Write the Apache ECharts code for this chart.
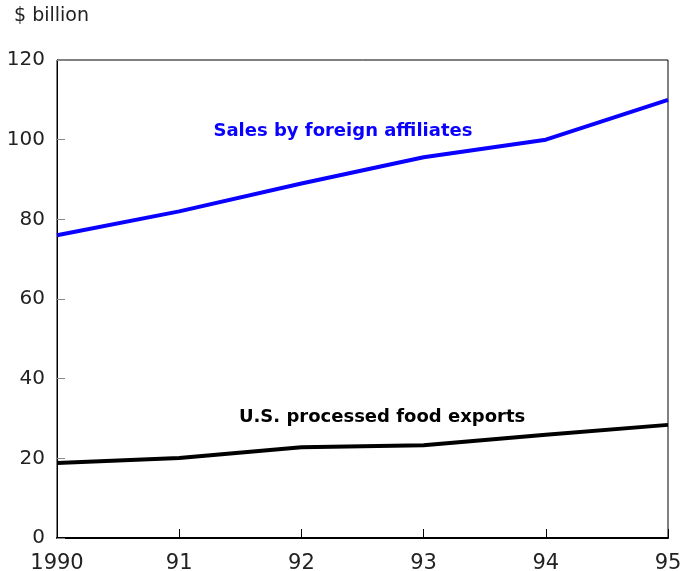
<!DOCTYPE html>
<html><head><meta charset="utf-8">
<script src="https://cdn.jsdelivr.net/npm/echarts@6/dist/echarts.min.js"></script>
<style>html,body{margin:0;padding:0;background:#fff}#c{width:694px;height:571px}</style>
</head><body><div id="c"></div>
<script>
const years = ['1990','91','92','93','94','95'];
const salesForeignAffiliates = [76, 82, 89, 95.6, 100, 110];
const processedFoodExports = [18.8, 20.1, 22.8, 23.3, 25.9, 28.4];
const yTicks = [0, 20, 40, 60, 80, 100, 120];

const font = 'DejaVu Sans';
const toPairs = arr => arr.map((v, i) => [i, v]);
const chart = echarts.init(document.getElementById('c'));
chart.setOption({
  animation: false,
  backgroundColor: '#fff',
  grid: {left: 57, right: 26, top: 60, bottom: 33, containLabel: false, outerBoundsMode: 'none',
    show: true, borderColor: '#000', borderWidth: 1, backgroundColor: 'transparent'},
  graphic: [
    {type: 'text', left: 14, top: 7, style: {text: '$ billion', fontSize: 19, fontFamily: font, fill: '#222'}}
  ],
  xAxis: {
    type: 'value', min: 0, max: years.length - 1, interval: 1,
    splitLine: {show: false},
    axisLine: {lineStyle: {color: '#000', width: 2}},
    axisTick: {inside: true, length: 9, lineStyle: {color: '#000'}},
    axisLabel: {color: '#222', fontSize: 21, fontFamily: font, margin: 15, formatter: v => years[v]}
  },
  yAxis: {
    type: 'value', min: yTicks[0], max: yTicks[yTicks.length - 1], interval: 20,
    axisLine: {show: true, lineStyle: {color: '#000', width: 1}},
    axisTick: {show: true, inside: true, length: 8, lineStyle: {color: '#888'}},
    splitLine: {show: false},
    axisLabel: {color: '#222', fontSize: 20, fontFamily: font, margin: 12}
  },
  series: [
    {
      type: 'line', data: toPairs(salesForeignAffiliates), symbol: 'none',
      lineStyle: {color: '#0a00ff', width: 4},
      markPoint: {symbol: 'circle', symbolSize: 1, itemStyle: {color: 'transparent'},
        data: [{coord: [2.34, 102.2], value: 0}],
        label: {show: true, position: 'inside', formatter: 'Sales by foreign affiliates', color: '#0a00ff', fontWeight: 'bold', fontSize: 18, fontFamily: font}}
    },
    {
      type: 'line', data: toPairs(processedFoodExports), symbol: 'none',
      lineStyle: {color: '#000', width: 4},
      markPoint: {symbol: 'circle', symbolSize: 1, itemStyle: {color: 'transparent'},
        data: [{coord: [2.66, 30.4], value: 0}],
        label: {show: true, position: 'inside', formatter: 'U.S. processed food exports', color: '#000', fontWeight: 'bold', fontSize: 18, fontFamily: font}}
    }
  ]
});
</script></body></html>
